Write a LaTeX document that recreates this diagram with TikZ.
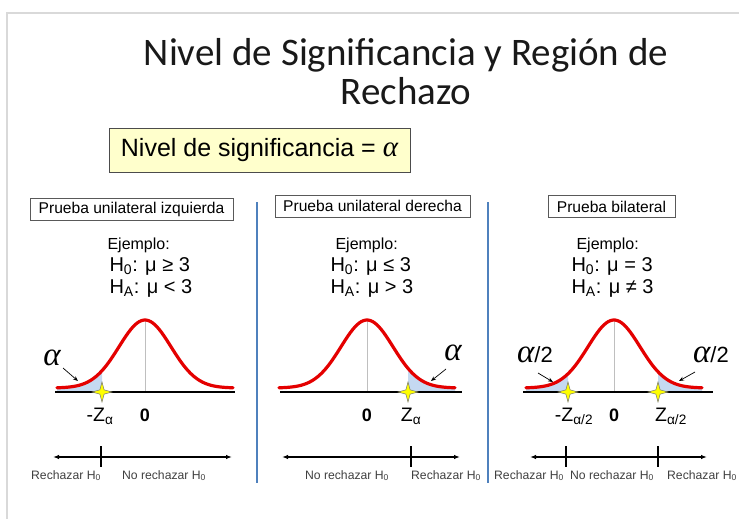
\documentclass[tikz,border=0pt]{standalone}
\usepackage{fontspec}
\setmainfont{Liberation Sans}
\newfontfamily\titlefont{Carlito}
\newfontfamily\greekfont{Liberation Serif}
\usetikzlibrary{arrows.meta, positioning}

\definecolor{framegray}{RGB}{217,217,217}
\definecolor{panelblue}{RGB}{79,129,189}
\definecolor{bellred}{RGB}{228,0,0}
\definecolor{tailblue}{RGB}{197,217,241}
\definecolor{boxyellow}{RGB}{255,255,204}
\definecolor{staryellow}{RGB}{255,255,0}
\definecolor{labelgray}{RGB}{64,64,64}

\newcommand{\alphasym}{{\greekfont\itshape α}}

\tikzset{
  testbox/.style={draw=black!65, line width=0.7pt, inner sep=0pt, minimum height=22pt,
    font=\fontsize{15.6}{18}\selectfont},
  hyp/.style={anchor=base west, font=\fontsize{20}{24}\selectfont},
  example/.style={anchor=base west, font=\fontsize{16}{19}\selectfont},
  bellline/.style={draw=bellred, line width=3.2pt, line cap=round},
  axisline/.style={line width=1.8pt},
  zlabel/.style={anchor=base, font=\fontsize{19.5}{22}\selectfont},
  zerolabel/.style={anchor=base, font=\bfseries\fontsize{18}{20}\selectfont},
  tailarrow/.style={line width=0.7pt, -{Stealth[length=5pt,width=4pt]}},
  regionarrow/.style={line width=1.2pt, {Latex[length=6pt,width=4.5pt]}-{Latex[length=6pt,width=4.5pt]}},
  regionlabel/.style={anchor=base, text=labelgray, font=\fontsize{12.2}{14}\selectfont},
  alphalabel/.style={font=\fontsize{33}{34}\selectfont, inner sep=0pt},
  titleline/.style={anchor=base, inner sep=0pt, text=black!90, font=\titlefont\fontsize{39}{39}\selectfont},
  zstar/.pic={
    \draw[fill=staryellow, draw=black!55, line width=0.5pt]
      (0:10) -- (45:3) -- (90:10) -- (135:3) -- (180:10)
      -- (225:3) -- (270:10) -- (315:3) -- cycle;
  }
}

\begin{document}
\begin{tikzpicture}[x=1pt, y=-1pt]
  \useasboundingbox (0,0) rectangle (739,519);
  % page frame
  \draw[framegray, line width=1.5pt] (7,519) -- (7,13) -- (739,13);

  % title
  \node[titleline] (title) at (406,66) {Nivel de Significancia y Región de};
  \node[titleline] (title2) at (406,104) {Rechazo};
  \node[draw=black!70, fill=boxyellow, line width=0.8pt, minimum width=301pt, minimum height=44pt,
    font=\fontsize{25}{28}\selectfont] (level) at (259.5,150)
    {Nivel de significancia = {\fontsize{29}{30}\selectfont\alphasym}};

  % panel separators
  \draw[panelblue, line width=1.8pt] (257,202) -- (257,483);
  \draw[panelblue, line width=1.8pt] (488,202) -- (488,483);

  % panel headings
  \node[testbox, minimum width=203pt] (leftbox) at (131.5,209) {Prueba unilateral izquierda};
  \node[testbox, minimum width=195pt] (rightbox) at (372.5,206) {Prueba unilateral derecha};
  \node[testbox, minimum width=127pt] (twobox) at (611.5,206.5) {Prueba bilateral};

  % hypotheses
  \node[example] (exL) at (104,249) {Ejemplo:};
  \node[hyp] (h0L) at (106,271) {H\textsubscript{0}: μ ≥ 3};
  \node[hyp] (haL) at (106,293) {H\textsubscript{A}: μ < 3};
  \node[example] (exM) at (332,249) {Ejemplo:};
  \node[hyp] (h0M) at (327,271) {H\textsubscript{0}: μ ≤ 3};
  \node[hyp] (haM) at (327,293) {H\textsubscript{A}: μ > 3};
  \node[example] (exR) at (573,249) {Ejemplo:};
  \node[hyp] (h0R) at (568,271) {H\textsubscript{0}: μ = 3};
  \node[hyp] (haR) at (568,293) {H\textsubscript{A}: μ ≠ 3};

  % rejection tails
  \fill[tailblue] (57,392) -- plot[domain=-88:-43, samples=20] ({145+\x},{388-68*exp(-(\x*\x)/1352)}) -- (102,392) -- cycle;
  \fill[tailblue] (408,392) -- plot[domain=41:88, samples=20] ({367+\x},{388-68*exp(-(\x*\x)/1352)}) -- (455,392) -- cycle;
  \fill[tailblue] (526,392) -- plot[domain=-88:-46, samples=20] ({614+\x},{388-68*exp(-(\x*\x)/1352)}) -- (568,392) -- cycle;
  \fill[tailblue] (658,392) -- plot[domain=44:88, samples=20] ({614+\x},{388-68*exp(-(\x*\x)/1352)}) -- (702,392) -- cycle;

  % bell curves and axes
  \foreach \cx/\axl/\axr in {145/55/235, 367/280/462, 614/523/713}{
    \draw[black!25, line width=0.6pt] (\cx,392) -- (\cx,320);
    \draw[bellline] plot[domain=-88:88, samples=80] ({\cx+\x},{388-68*exp(-(\x*\x)/1352)});
    \draw[axisline] (\axl,392) -- (\axr,392);
  }

  % critical values
  \pic at (102,392) {zstar};
  \pic at (408,392) {zstar};
  \pic at (568,392) {zstar};
  \pic at (658,392) {zstar};

  \node[zlabel] (zL) at (100,421) {-Z\textsubscript{α}};
  \node[zerolabel] (zeroL) at (145,421) {0};
  \node[zerolabel] (zeroM) at (367,421) {0};
  \node[zlabel] (zM) at (411,421) {Z\textsubscript{α}};
  \node[zlabel] (zRl) at (574,421) {-Z\textsubscript{α/2}};
  \node[zerolabel] (zeroR) at (614,421) {0};
  \node[zlabel] (zRr) at (671,421) {Z\textsubscript{α/2}};

  % significance labels
  \node[alphalabel] (alphaL) at (52,358) {\alphasym};
  \node[alphalabel] (alphaM) at (453,353) {\alphasym};
  \node[alphalabel] (halfL) at (535,355) {\alphasym\fontsize{22}{24}\selectfont/2};
  \node[alphalabel] (halfR) at (711,355) {\alphasym\fontsize{22}{24}\selectfont/2};
  \coordinate (tipL) at (78,381);
  \coordinate (tipM) at (431,381);
  \coordinate (tipRl) at (553,382);
  \coordinate (tipRr) at (679,381);
  \draw[tailarrow] (63,368) -- (tipL);
  \draw[tailarrow] (446,369) -- (tipM);
  \draw[tailarrow] (538,373) -- (tipRl);
  \draw[tailarrow] (695,372) -- (tipRr);

  % decision regions
  \coordinate (lineLa) at (53,457);
  \coordinate (lineLb) at (232,457);
  \draw[regionarrow] (lineLa) -- (lineLb);
  \draw[line width=1.2pt] (101,446) -- (101,467);
  \node[regionlabel] (rejL) at (66,479) {Rechazar H\textsubscript{0}};
  \node[regionlabel] (accL) at (164,479) {No rechazar H\textsubscript{0}};

  \coordinate (lineMa) at (282,457);
  \coordinate (lineMb) at (460,457);
  \draw[regionarrow] (lineMa) -- (lineMb);
  \draw[line width=1.2pt] (411,446) -- (411,467);
  \node[regionlabel] (accM) at (347,479) {No rechazar H\textsubscript{0}};
  \node[regionlabel] (rejM) at (446,479) {Rechazar H\textsubscript{0}};

  \coordinate (lineRa) at (530,457);
  \coordinate (lineRb) at (707,457);
  \draw[regionarrow] (lineRa) -- (lineRb);
  \draw[line width=1.2pt] (566,446) -- (566,467);
  \draw[line width=1.2pt] (658,446) -- (658,467);
  \node[regionlabel] (rejRl) at (529,479) {Rechazar H\textsubscript{0}};
  \node[regionlabel] (accR) at (612,479) {No rechazar H\textsubscript{0}};
  \node[regionlabel] (rejRr) at (702,479) {Rechazar H\textsubscript{0}};
\end{tikzpicture}
\end{document}
